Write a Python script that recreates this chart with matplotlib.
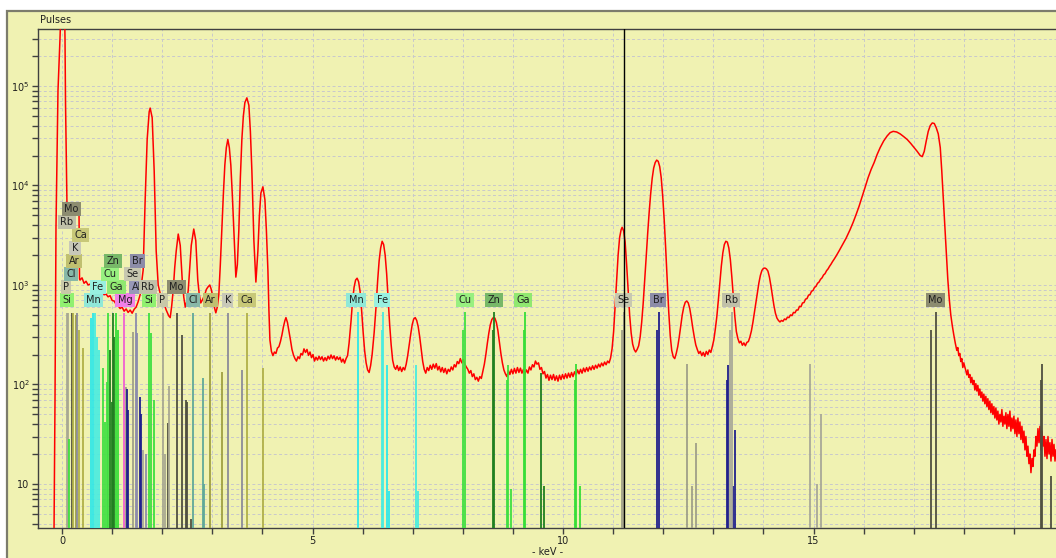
import matplotlib
matplotlib.use('Agg')
import matplotlib.pyplot as plt
from matplotlib.patches import Rectangle
from matplotlib.ticker import FixedLocator, FixedFormatter, MultipleLocator, LogLocator, NullFormatter

# measured spectrum as (keV, pulses), split by energy range
spec_low = [(-0.16, 3), (-0.14, 65), (-0.12, 3800), (-0.10, 2.0e4), (-0.08, 9.0e4),
            (-0.04, 3.0e5), (0.00, 1.2e6), (0.05, 6.0e5), (0.06, 3.0e5), (0.07, 7.0e4),
            (0.09, 1.5e4), (0.10, 6000), (0.22, 5500), (0.34, 5000), (0.35, 1150),
            (0.36, 1120), (0.40, 1180), (0.44, 1040), (0.48, 1090), (0.52, 1000),
            (0.56, 1020), (0.60, 940), (0.64, 960), (0.68, 880), (0.72, 900),
            (0.76, 840), (0.80, 860), (0.84, 800), (0.88, 810), (0.92, 760),
            (0.96, 780), (1.00, 700), (1.04, 690), (1.08, 640), (1.12, 620),
            (1.16, 580), (1.20, 600), (1.24, 545), (1.28, 575), (1.32, 530),
            (1.36, 560), (1.40, 520), (1.44, 570), (1.48, 600), (1.52, 680),
            (1.56, 800), (1.62, 1410), (1.66, 7200), (1.70, 2.9e4), (1.74, 5.5e4),
            (1.76, 6.0e4), (1.80, 4.8e4), (1.84, 1.4e4), (1.88, 2200), (1.92, 1000),
            (1.96, 820), (2.00, 710), (2.04, 640), (2.08, 560), (2.10, 530),
            (2.13, 490), (2.16, 470), (2.19, 620), (2.22, 890), (2.25, 1500),
            (2.28, 2200), (2.32, 3250), (2.36, 2500), (2.40, 1120), (2.43, 760),
            (2.46, 600), (2.49, 680), (2.52, 890), (2.55, 1500), (2.58, 2500),
            (2.63, 3650), (2.67, 2800), (2.71, 1120), (2.74, 800), (2.77, 660),
            (2.81, 720), (2.85, 800), (2.88, 900), (2.91, 950), (2.95, 1000),
            (2.98, 900), (3.01, 760), (3.04, 600), (3.07, 525), (3.10, 600),
            (3.13, 800), (3.16, 1600), (3.19, 3600), (3.22, 8000), (3.25, 1.6e4),
            (3.28, 2.4e4), (3.31, 2.9e4), (3.34, 2.4e4), (3.37, 1.6e4), (3.40, 8000),
            (3.43, 3600), (3.47, 1200), (3.50, 1600), (3.53, 3600), (3.56, 1.2e4),
            (3.59, 2.9e4), (3.62, 5.0e4), (3.65, 6.8e4), (3.69, 7.6e4), (3.73, 6.4e4),
            (3.76, 3.5e4), (3.79, 1.4e4), (3.83, 2800), (3.87, 1070), (3.91, 2200),
            (3.94, 5000), (3.97, 8400), (4.01, 9700), (4.05, 7200), (4.08, 3500),
            (4.11, 1400), (4.13, 560)]
spec_mid = [(4.15, 280), (4.18, 215), (4.21, 195), (4.24, 212), (4.27, 205),
            (4.30, 232), (4.33, 240), (4.36, 270), (4.39, 315), (4.42, 380),
            (4.45, 440), (4.47, 470), (4.50, 420), (4.53, 345), (4.56, 280),
            (4.59, 225), (4.62, 198), (4.65, 182), (4.68, 172), (4.71, 190),
            (4.74, 182), (4.77, 205), (4.80, 198), (4.83, 228), (4.86, 210),
            (4.89, 225), (4.92, 196), (4.95, 212), (4.98, 186), (5.01, 200),
            (5.04, 172), (5.07, 188), (5.10, 176), (5.13, 192), (5.16, 178),
            (5.19, 190), (5.22, 172), (5.25, 186), (5.28, 174), (5.31, 192),
            (5.34, 180), (5.37, 198), (5.40, 182), (5.43, 194), (5.46, 176),
            (5.49, 190), (5.52, 178), (5.55, 188), (5.58, 168), (5.61, 180),
            (5.64, 164), (5.67, 182), (5.70, 195), (5.73, 260), (5.77, 440),
            (5.80, 700), (5.83, 950), (5.86, 1120), (5.89, 1170), (5.92, 1080),
            (5.95, 860), (5.98, 560), (6.01, 340), (6.04, 220), (6.07, 165),
            (6.10, 140), (6.13, 132), (6.16, 155), (6.19, 200), (6.23, 330),
            (6.27, 620), (6.30, 1100), (6.33, 1750), (6.36, 2350), (6.39, 2750),
            (6.42, 2550), (6.45, 2000), (6.48, 1300), (6.51, 720), (6.54, 400),
            (6.57, 250), (6.60, 175), (6.63, 150), (6.66, 142), (6.69, 155),
            (6.72, 138), (6.75, 150), (6.78, 135), (6.81, 148), (6.84, 140),
            (6.87, 160), (6.90, 195), (6.93, 250), (6.96, 320), (6.99, 400),
            (7.02, 455), (7.05, 470), (7.08, 440), (7.11, 380), (7.14, 300),
            (7.17, 225), (7.20, 170), (7.23, 142), (7.26, 130), (7.29, 148),
            (7.32, 138), (7.35, 156), (7.38, 142), (7.41, 160), (7.44, 146),
            (7.47, 162), (7.50, 140), (7.53, 152), (7.56, 134), (7.59, 148),
            (7.62, 132), (7.65, 145), (7.68, 128), (7.71, 142), (7.74, 135),
            (7.77, 150), (7.80, 140), (7.83, 158), (7.86, 150), (7.89, 170),
            (7.92, 162), (7.95, 182), (7.98, 165), (8.01, 178), (8.04, 160),
            (8.07, 150), (8.10, 142), (8.13, 130), (8.16, 138), (8.19, 120),
            (8.22, 128), (8.25, 112), (8.28, 118), (8.31, 108), (8.34, 120),
            (8.37, 115), (8.40, 135), (8.43, 160), (8.46, 200), (8.49, 260),
            (8.52, 330), (8.55, 400), (8.58, 450), (8.61, 470), (8.64, 465),
            (8.67, 420), (8.70, 350), (8.73, 270), (8.76, 205), (8.79, 165),
            (8.82, 140), (8.85, 128), (8.88, 120), (8.91, 138), (8.94, 126),
            (8.97, 142), (9.00, 128), (9.03, 145), (9.06, 130), (9.09, 148),
            (9.12, 132), (9.15, 146), (9.18, 130), (9.21, 142), (9.24, 128),
            (9.27, 140), (9.30, 130), (9.33, 150), (9.36, 140), (9.39, 158),
            (9.42, 150), (9.45, 172), (9.48, 160), (9.51, 165), (9.54, 142),
            (9.57, 148), (9.60, 128), (9.63, 135), (9.66, 116), (9.69, 126),
            (9.72, 110), (9.75, 124), (9.78, 112), (9.81, 126), (9.84, 110),
            (9.87, 122), (9.90, 108), (9.93, 124), (9.96, 112), (9.99, 126),
            (10.02, 114), (10.05, 128), (10.08, 116), (10.11, 130), (10.14, 118),
            (10.17, 132), (10.20, 120), (10.23, 134), (10.26, 124), (10.29, 140),
            (10.32, 128), (10.35, 142), (10.38, 130), (10.41, 146), (10.44, 134),
            (10.47, 148), (10.50, 136), (10.53, 150), (10.56, 140), (10.59, 154),
            (10.62, 142), (10.65, 156), (10.68, 146), (10.71, 160), (10.74, 150),
            (10.77, 164), (10.80, 154), (10.83, 168), (10.86, 158), (10.89, 172),
            (10.92, 165), (10.95, 185)]
spec_high = [(10.98, 230), (11.01, 340), (11.04, 600), (11.07, 1100), (11.10, 2000),
             (11.13, 3000), (11.16, 3600), (11.18, 3800), (11.21, 3500), (11.24, 2700),
             (11.27, 1600), (11.30, 880), (11.33, 500), (11.36, 330), (11.39, 255),
             (11.42, 225), (11.45, 212), (11.48, 225), (11.51, 245), (11.54, 300),
             (11.57, 420), (11.60, 650), (11.63, 1100), (11.66, 1900), (11.69, 3300),
             (11.72, 5400), (11.75, 8300), (11.78, 1.18e4), (11.81, 1.5e4), (11.84, 1.7e4),
             (11.87, 1.8e4), (11.90, 1.75e4), (11.93, 1.55e4), (11.96, 1.2e4), (11.99, 7800),
             (12.02, 4500), (12.05, 2300), (12.08, 1100), (12.11, 540), (12.14, 310),
             (12.17, 220), (12.20, 190), (12.23, 182), (12.26, 205), (12.29, 240),
             (12.32, 300), (12.35, 390), (12.38, 500), (12.41, 600), (12.44, 670),
             (12.47, 690), (12.50, 660), (12.53, 580), (12.56, 470), (12.59, 370),
             (12.62, 300), (12.65, 250), (12.68, 225), (12.71, 205), (12.74, 215),
             (12.77, 195), (12.80, 210), (12.83, 192), (12.86, 215), (12.89, 200),
             (12.92, 222), (12.95, 210), (12.98, 240), (13.01, 280), (13.04, 360),
             (13.07, 480), (13.10, 700), (13.13, 1050), (13.16, 1550), (13.19, 2100),
             (13.22, 2550), (13.25, 2750), (13.28, 2700), (13.31, 2350), (13.34, 1800),
             (13.37, 1200), (13.40, 760), (13.43, 480), (13.46, 340), (13.49, 290),
             (13.52, 262), (13.55, 272), (13.58, 248), (13.61, 262), (13.64, 245),
             (13.67, 265), (13.70, 270), (13.73, 300), (13.76, 345), (13.79, 420),
             (13.82, 530), (13.85, 680), (13.88, 850), (13.91, 1050), (13.94, 1250),
             (13.97, 1400), (14.00, 1470), (14.03, 1480), (14.06, 1450), (14.09, 1380),
             (14.12, 1200), (14.15, 980), (14.18, 780), (14.21, 620), (14.24, 520),
             (14.27, 465), (14.30, 440), (14.33, 425), (14.36, 440), (14.39, 432),
             (14.42, 455), (14.45, 448), (14.48, 475), (14.51, 470), (14.54, 500),
             (14.57, 492), (14.60, 530), (14.63, 525), (14.66, 560), (14.69, 560),
             (14.72, 610), (14.75, 605), (14.78, 660), (14.81, 665), (14.84, 720),
             (14.87, 730), (14.90, 790), (14.93, 800), (14.96, 865), (14.99, 880),
             (15.02, 945), (15.05, 970), (15.08, 1040), (15.11, 1070), (15.14, 1140),
             (15.17, 1180), (15.20, 1260), (15.23, 1300), (15.26, 1390), (15.29, 1450),
             (15.32, 1540), (15.35, 1620), (15.38, 1720), (15.41, 1810), (15.45, 1950)]
spec_mo = [(15.51, 2200), (15.57, 2500), (15.65, 2950), (15.73, 3600), (15.79, 4250),
           (15.85, 5100), (15.91, 6200), (15.97, 7700), (16.03, 9600), (16.09, 1.2e4),
           (16.15, 1.45e4), (16.21, 1.7e4), (16.27, 2.05e4), (16.33, 2.4e4), (16.40, 2.8e4),
           (16.47, 3.15e4), (16.53, 3.4e4), (16.59, 3.5e4), (16.66, 3.45e4), (16.73, 3.3e4),
           (16.80, 3.1e4), (16.87, 2.9e4), (16.94, 2.65e4), (17.01, 2.4e4), (17.07, 2.2e4),
           (17.13, 2.0e4), (17.17, 1.95e4), (17.21, 2.2e4), (17.25, 2.8e4), (17.29, 3.5e4),
           (17.33, 4.0e4), (17.37, 4.25e4), (17.41, 4.2e4), (17.45, 3.8e4), (17.49, 3.3e4),
           (17.53, 2.4e4), (17.56, 1.4e4), (17.59, 7500), (17.62, 4000), (17.65, 2100),
           (17.68, 1150), (17.71, 720), (17.74, 500), (17.77, 390), (17.80, 315),
           (17.83, 260), (17.86, 220), (17.88, 235), (17.90, 195), (17.92, 205),
           (17.94, 170), (17.96, 182), (17.98, 148), (18.00, 165), (18.02, 150),
           (18.04, 138), (18.06, 125), (18.08, 140), (18.10, 118), (18.12, 126),
           (18.14, 104), (18.16, 118), (18.18, 100), (18.20, 110), (18.22, 88),
           (18.24, 102), (18.26, 86), (18.28, 98), (18.30, 78), (18.32, 90),
           (18.34, 74), (18.36, 84), (18.38, 68), (18.40, 80), (18.42, 64),
           (18.44, 76), (18.46, 60), (18.48, 72), (18.50, 56), (18.52, 68),
           (18.54, 52), (18.56, 64), (18.58, 50), (18.60, 60), (18.62, 46),
           (18.64, 58), (18.66, 44), (18.68, 54), (18.70, 40), (18.72, 50),
           (18.74, 42), (18.76, 56), (18.78, 38), (18.80, 48), (18.82, 40),
           (18.84, 52), (18.86, 36), (18.88, 50), (18.90, 38), (18.92, 54),
           (18.94, 34), (18.96, 46), (18.98, 36), (19.00, 48), (19.02, 32),
           (19.04, 44), (19.06, 30), (19.08, 46), (19.10, 32), (19.12, 42),
           (19.14, 28), (19.16, 38), (19.18, 26), (19.20, 34), (19.22, 22),
           (19.24, 30), (19.26, 19), (19.28, 24), (19.30, 16), (19.32, 20),
           (19.34, 13), (19.36, 18), (19.38, 15), (19.40, 22), (19.42, 19),
           (19.44, 30), (19.46, 24), (19.48, 36), (19.50, 26), (19.52, 38),
           (19.54, 22), (19.56, 34), (19.58, 24), (19.60, 30), (19.62, 19),
           (19.64, 28), (19.66, 18), (19.68, 30), (19.70, 20), (19.72, 26),
           (19.74, 17), (19.76, 28), (19.78, 19), (19.80, 25), (19.82, 17),
           (19.84, 22)]

# element marker lines: element, energy (keV), height (pulses)
line_elem = ['Rb', 'P', 'Si', 'Mo', 'Ca', 'Ar', 'K', 'Ca', 'Ca',
             'Mn', 'Mn', 'Fe', 'Fe', 'Fe',
             'Cu', 'Cu', 'Cu', 'Cu', 'Zn', 'Zn', 'Zn', 'Zn', 'Ga', 'Ga',
             'Mg', 'Se', 'Br', 'Br', 'Se', 'Al', 'Al', 'Br', 'Br', 'Rb', 'Al',
             'Si', 'Si', 'Si', 'P', 'P', 'Mo', 'P',
             'Mo', 'Mo', 'Mo', 'Mo', 'Mo', 'Cl', 'Cl', 'Cl',
             'Ar', 'Ar', 'K', 'K', 'Ca', 'Ca',
             'Mn', 'Mn', 'Mn', 'Fe', 'Fe', 'Fe', 'Fe',
             'Cu', 'Cu', 'Cu', 'Cu', 'Cu', 'Zn', 'Zn', 'Zn', 'Zn',
             'Ga', 'Ga', 'Ga', 'Ga', 'Ga',
             'Se', 'Se', 'Se', 'Se', 'Se', 'Br', 'Br', 'Br', 'Br', 'Br', 'Br',
             'Rb', 'Rb', 'Rb', 'Rb', 'Rb', 'Mo', 'Mo', 'Mo', 'Mo', 'Mo']
line_kev = [0.10, 0.12, 0.14, 0.20, 0.22, 0.28, 0.30, 0.34, 0.42,
            0.58, 0.62, 0.66, 0.70, 0.74,
            0.82, 0.86, 0.90, 0.92, 0.96, 1.00, 1.02, 1.04, 1.08, 1.12,
            1.24, 1.27, 1.29, 1.31, 1.41, 1.48, 1.50, 1.55, 1.58, 1.62, 1.68,
            1.74, 1.78, 1.84, 2.02, 2.06, 2.12, 2.14,
            2.30, 2.40, 2.48, 2.50, 2.57, 2.62, 2.81, 2.83,
            2.96, 3.19, 3.31, 3.59, 3.69, 4.01,
            5.90, 6.49, 6.53, 6.40, 6.38, 7.06, 7.10,
            8.05, 8.01, 8.88, 8.91, 8.97, 8.62, 8.60, 9.57, 9.63,
            9.24, 9.22, 10.24, 10.26, 10.34,
            11.22, 11.18, 12.47, 12.57, 12.65, 11.92, 11.88, 13.27, 13.29, 13.39, 13.43,
            13.37, 13.33, 14.93, 15.07, 15.15, 17.45, 17.35, 19.54, 19.56, 19.74]
line_cps = [520, 520, 28, 520, 520, 500, 520, 350, 235,
            470, 520, 520, 300, 220,
            145, 42, 105, 520, 220, 66, 520, 300, 520, 350,
            520, 94, 90, 56, 340, 520, 330, 74, 50, 22, 20,
            520, 330, 70, 520, 20, 41, 96,
            520, 315, 70, 66, 4.4, 520, 117, 10,
            520, 135, 520, 140, 520, 145,
            535, 157, 8.5, 535, 350, 157, 8.5,
            535, 350, 111, 157, 9, 535, 350, 130, 9.5,
            535, 350, 111, 160, 9.5,
            535, 350, 160, 9.5, 26, 535, 350, 111, 157, 9.5, 35,
            535, 350, 160, 10, 51, 535, 350, 111, 160, 12]

# element name boxes: element, energy (keV), stacking row
label_elem = ['Si', 'Mn', 'Mg', 'Si', 'P', 'Cl', 'Ar', 'K', 'Ca', 'Mn', 'Fe',
              'Cu', 'Zn', 'Ga', 'Se', 'Br', 'Rb', 'Mo',
              'P', 'Fe', 'Ga', 'Al', 'Rb', 'Mo',
              'Cl', 'Cu', 'Se', 'Ar', 'Zn', 'Br', 'K', 'Ca', 'Rb', 'Mo']
label_kev = [0.10, 0.63, 1.26, 1.73, 2.00, 2.62, 2.96, 3.31, 3.69, 5.87, 6.39,
             8.05, 8.62, 9.20, 11.20, 11.90, 13.36, 17.43,
             0.08, 0.71, 1.09, 1.48, 1.71, 2.28,
             0.18, 0.95, 1.41, 0.24, 1.02, 1.51, 0.26, 0.37, 0.10, 0.19]
label_row = [0, 0, 0, 0, 0, 0, 0, 0, 0, 0, 0, 0, 0, 0, 0, 0, 0, 0,
             1, 1, 1, 1, 1, 1,
             2, 2, 2, 3, 3, 3, 4, 5, 6, 7]

cursor_kev = 11.22

line_colors = {'Si': '#3ee03e', 'P': '#a8a890', 'Cl': '#5fa898', 'Ar': '#a0a040',
               'K': '#8c8c98', 'Ca': '#b0b048', 'Mn': '#2ee8e8', 'Fe': '#48ece0',
               'Cu': '#40e040', 'Zn': '#1f7f1f', 'Ga': '#36de36', 'Se': '#a0a088',
               'Br': '#20208c', 'Rb': '#a8a898', 'Mo': '#505040', 'Mg': '#f060d0',
               'Al': '#8c8cac'}
box_colors = {'Si': '#90f070', 'P': '#c8c8a8', 'Cl': '#88b8a8', 'Ar': '#c0c070',
              'K': '#c8c8b8', 'Ca': '#c8c878', 'Mn': '#90e8d8', 'Fe': '#98f0e0',
              'Cu': '#98f080', 'Zn': '#78b868', 'Ga': '#90e870', 'Se': '#c8c8b0',
              'Br': '#8c8ca8', 'Rb': '#c0c0a8', 'Mo': '#8c8c70', 'Mg': '#f080e8',
              'Al': '#9898b8'}

spec = spec_low + spec_mid + spec_high + spec_mo
spec_kev = [p[0] for p in spec]
spec_cps = [p[1] for p in spec]

bg = '#f0f2b2'
W, H = 1056, 558
fig = plt.figure(figsize=(W / 100, H / 100), dpi=100)
fig.patch.set_facecolor('white')
frame = Rectangle((7 / W, -0.05), 1.2, (H - 11) / H + 0.05,
                  transform=fig.transFigure, facecolor=bg,
                  edgecolor='#7c7c6c', lw=1.6, zorder=-10)
fig.patches.append(frame)

ax = fig.add_axes([38 / W, (H - 528) / H, (W - 38) / W, (528 - 29) / H])
ax.set_zorder(1)
ax.set_facecolor(bg)
ax.set_yscale('log')
ax.set_xlim(-0.479, 19.84)
ax.set_ylim(3.61, 3.74e5)

ax.vlines(line_kev, 1, line_cps, colors=[line_colors[e] for e in line_elem],
          lw=1.3, zorder=5)
ax.plot(spec_kev, spec_cps, color='#ff0000', lw=1.1, zorder=4)
ax.axvline(cursor_kev, color='black', lw=1.0, zorder=8)

base = 706  # centre of the lowest row of element boxes
for el, kev, row in zip(label_elem, label_kev, label_row):
    ax.annotate(el, xy=(kev, base), xycoords='data', xytext=(0, row * 9.36),
                textcoords='offset points', ha='center', va='center',
                fontsize=7, color='#202020', zorder=7, annotation_clip=False,
                bbox=dict(boxstyle='square,pad=0.25', fc=box_colors[el],
                          ec='none'))

ax.xaxis.set_major_locator(FixedLocator([0, 5, 10, 15]))
ax.xaxis.set_minor_locator(MultipleLocator(1))
ax.yaxis.set_major_locator(FixedLocator([10, 100, 1000, 1e4, 1e5]))
ax.yaxis.set_major_formatter(FixedFormatter(['10', '$10^2$', '$10^3$',
                                             '$10^4$', '$10^5$']))
ax.yaxis.set_minor_locator(LogLocator(base=10, subs=range(2, 10)))
ax.yaxis.set_minor_formatter(NullFormatter())
ax.tick_params(which='both', direction='out', length=4, width=1,
               color='#404040', labelsize=7, labelcolor='#202020', pad=2)
ax.grid(True, which='both', ls=(0, (3, 2.5)), color='#c8c8cc', lw=0.7, zorder=1)
ax.set_axisbelow(True)
for s in ['left', 'bottom', 'top']:
    ax.spines[s].set_color('#404040')
    ax.spines[s].set_linewidth(1.0)
ax.spines['right'].set_visible(False)

fig.text(40 / W, (H - 20) / H, 'Pulses', fontsize=7, color='#202020',
         ha='left', va='center')
fig.text(548 / W, (H - 552) / H, '- keV -', fontsize=7, color='#202020',
         ha='center', va='center')

fig.savefig('out.png', dpi=100, facecolor=fig.get_facecolor())
